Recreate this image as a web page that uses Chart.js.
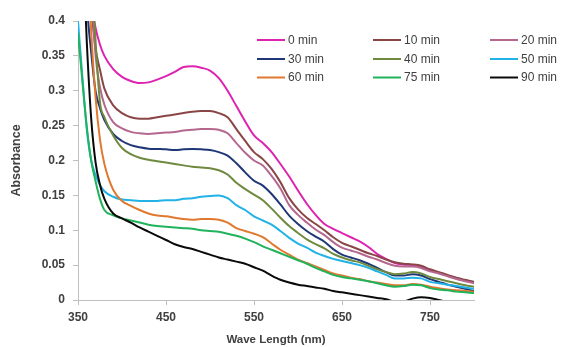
<!DOCTYPE html>
<html>
<head>
<meta charset="utf-8">
<script src="https://cdn.jsdelivr.net/npm/chart.js@4"></script>
<style>
  html, body { margin: 0; padding: 0; background: #ffffff; }
  #wrap { width: 561px; height: 347px; }
</style>
</head>
<body>
<div id="wrap"><canvas id="chart" width="561" height="347"></canvas></div>
<script>
// Wavelength grid (nm)
const wavelengths = [350,355,360,365,370,375,380,390,400,410,420,430,440,450,460,470,480,490,500,510,520,530,540,550,560,570,580,590,600,610,620,630,640,650,660,670,680,690,700,710,720,730,740,750,760,770,780,790,800];

// Absorbance spectra recorded at each irradiation time
const abs0 = [null,null,0.52,0.43,0.39,0.366,0.35,0.331,0.32,0.314,0.311,0.312,0.316,0.321,0.327,0.334,0.335,0.333,0.329,0.318,0.300,0.278,0.256,0.236,0.225,0.212,0.195,0.177,0.157,0.138,0.122,0.109,0.102,0.096,0.090,0.084,0.076,0.066,0.059,0.053,0.051,0.050,0.048,0.043,0.039,0.035,0.031,0.028,0.025];
const abs10 = [null,null,0.50,0.42,0.36,0.33,0.303,0.279,0.268,0.262,0.260,0.260,0.262,0.264,0.266,0.268,0.270,0.271,0.271,0.268,0.262,0.245,0.228,0.212,0.202,0.188,0.169,0.146,0.130,0.118,0.109,0.100,0.090,0.082,0.077,0.072,0.067,0.063,0.058,0.054,0.052,0.051,0.049,0.044,0.040,0.036,0.032,0.029,0.026];
const abs20 = [null,null,0.55,0.45,0.35,0.305,0.28,0.255,0.246,0.241,0.239,0.238,0.239,0.240,0.241,0.243,0.244,0.245,0.245,0.244,0.239,0.225,0.211,0.200,0.193,0.178,0.160,0.136,0.122,0.111,0.101,0.093,0.083,0.075,0.071,0.067,0.062,0.058,0.053,0.049,0.048,0.048,0.046,0.041,0.038,0.034,0.030,0.027,0.024];
const abs30 = [null,0.60,0.43,0.355,0.299,0.275,0.258,0.238,0.228,0.222,0.219,0.217,0.2165,0.216,0.215,0.216,0.2165,0.216,0.215,0.212,0.207,0.196,0.183,0.171,0.164,0.152,0.137,0.121,0.109,0.099,0.091,0.0835,0.073,0.065,0.061,0.057,0.052,0.046,0.040,0.035,0.035,0.037,0.035,0.030,0.026,0.022,0.019,0.016,0.013];
const abs40 = [null,null,0.60,0.48,0.37,0.283,0.262,0.236,0.218,0.209,0.204,0.201,0.199,0.197,0.195,0.193,0.191,0.190,0.189,0.186,0.180,0.168,0.159,0.151,0.143,0.131,0.118,0.106,0.096,0.087,0.080,0.074,0.066,0.061,0.057,0.054,0.049,0.044,0.040,0.037,0.038,0.040,0.038,0.033,0.030,0.027,0.024,0.021,0.019];
const abs50 = [0.40,0.32,0.245,0.200,0.179,0.165,0.156,0.148,0.144,0.143,0.142,0.142,0.142,0.143,0.143,0.145,0.146,0.148,0.149,0.150,0.146,0.136,0.129,0.120,0.114,0.108,0.099,0.089,0.081,0.075,0.068,0.063,0.059,0.056,0.053,0.050,0.046,0.041,0.036,0.031,0.031,0.032,0.031,0.026,0.024,0.022,0.020,0.018,0.016];
const abs60 = [null,null,0.52,0.385,0.29,0.23,0.195,0.158,0.142,0.135,0.129,0.124,0.121,0.120,0.118,0.116,0.115,0.116,0.116,0.115,0.111,0.103,0.099,0.095,0.090,0.081,0.072,0.065,0.058,0.053,0.048,0.043,0.038,0.035,0.032,0.030,0.027,0.025,0.023,0.021,0.021,0.023,0.022,0.019,0.017,0.015,0.014,0.013,0.012];
const abs75 = [0.383,0.313,0.248,0.200,0.170,0.145,0.129,0.1215,0.117,0.114,0.111,0.108,0.106,0.105,0.104,0.103,0.102,0.100,0.099,0.098,0.095,0.092,0.088,0.083,0.077,0.072,0.067,0.062,0.057,0.052,0.046,0.041,0.036,0.033,0.031,0.029,0.027,0.024,0.021,0.019,0.020,0.022,0.021,0.017,0.015,0.014,0.012,0.011,0.010];
const abs90 = [null,0.52,0.37,0.26,0.197,0.165,0.145,0.124,0.117,0.111,0.104,0.098,0.092,0.086,0.080,0.076,0.073,0.069,0.065,0.061,0.058,0.055,0.052,0.047,0.042,0.035,0.029,0.025,0.022,0.020,0.018,0.016,0.013,0.011,0.009,0.007,0.005,0.003,0.001,-0.002,-0.002,0.002,0.004,0.003,0.000,-0.003,-0.006,-0.008,-0.010];

const seriesLabels = ['0 min','10 min','20 min','30 min','40 min','50 min','60 min','75 min','90 min'];
const seriesData = [abs0, abs10, abs20, abs30, abs40, abs50, abs60, abs75, abs90];
const seriesColors = ['#DE23B0','#8A4646','#B4678F','#1F3777','#6F8A3E','#22B2E6','#E0792F','#20B35B','#0A0A0A'];

const xTickValues = [350,450,550,650,750];
const yTickValues = [0,0.05,0.1,0.15,0.2,0.25,0.3,0.35,0.4];

const axisGray = '#BFBFBF';
const textGray = '#404040';

// Legend laid out as a 3 x 3 grid inside the plot area
const gridLegend = {
  id: 'gridLegend',
  afterDraw(chart) {
    const ctx = chart.ctx;
    const colX = [257, 373, 490];
    const rowY = [40, 59, 77.5];
    const lineLen = 28;
    ctx.save();
    ctx.font = '12px "Liberation Sans", Arial, sans-serif';
    ctx.textBaseline = 'middle';
    ctx.textAlign = 'left';
    chart.data.datasets.forEach((ds, i) => {
      const x = colX[i % 3];
      const y = rowY[Math.floor(i / 3)];
      ctx.strokeStyle = ds.borderColor;
      ctx.lineWidth = 2;
      ctx.beginPath();
      ctx.moveTo(x, y);
      ctx.lineTo(x + lineLen, y);
      ctx.stroke();
      ctx.fillStyle = textGray;
      ctx.fillText(ds.label, x + lineLen + 3, y + 0.5);
    });
    ctx.restore();
  }
};

const datasets = seriesData.map((vals, i) => ({
  label: seriesLabels[i],
  data: vals.map((v, k) => ({ x: wavelengths[k], y: v })),
  borderColor: seriesColors[i],
  backgroundColor: seriesColors[i],
  borderWidth: 2,
  pointRadius: 0,
  fill: false,
  tension: 0.4,
  cubicInterpolationMode: 'monotone',
  order: seriesData.length - i
}));

new Chart(document.getElementById('chart'), {
  type: 'line',
  data: { datasets },
  plugins: [gridLegend],
  options: {
    responsive: false,
    animation: false,
    devicePixelRatio: 1,
    layout: { padding: { top: 21, right: 87, bottom: 0, left: 0 } },
    plugins: {
      legend: { display: false },
      tooltip: { enabled: false }
    },
    scales: {
      x: {
        type: 'linear',
        min: 350,
        max: 800,
        afterBuildTicks: (scale) => { scale.ticks = xTickValues.map(v => ({ value: v })); },
        afterFit: (scale) => { scale.height = 47; },
        grid: { display: true, drawOnChartArea: false, drawTicks: true, tickLength: 5, color: axisGray },
        border: { display: true, color: axisGray, width: 1 },
        ticks: {
          padding: 5,
          maxRotation: 0,
          color: textGray,
          font: { family: '"Liberation Sans", Arial, sans-serif', size: 12, weight: 'bold' }
        },
        title: {
          display: true,
          text: 'Wave Length (nm)',
          color: textGray,
          padding: { top: 0, bottom: 0 },
          font: { family: '"Liberation Sans", Arial, sans-serif', size: 11.5, weight: 'bold' }
        }
      },
      y: {
        type: 'linear',
        min: 0,
        max: 0.4,
        afterBuildTicks: (scale) => { scale.ticks = yTickValues.map(v => ({ value: v })); },
        afterFit: (scale) => { scale.width = 78; },
        grid: { display: true, drawOnChartArea: false, drawTicks: true, tickLength: 5, color: axisGray },
        border: { display: true, color: axisGray, width: 1 },
        ticks: {
          padding: 8,
          color: textGray,
          font: { family: '"Liberation Sans", Arial, sans-serif', size: 12, weight: 'bold' },
          callback: (v) => String(Number(v.toFixed(2)))
        },
        title: {
          display: true,
          text: 'Absorbance',
          color: textGray,
          padding: { top: 9, bottom: 0 },
          font: { family: '"Liberation Sans", Arial, sans-serif', size: 12.5, weight: 'bold' }
        }
      }
    }
  }
});
</script>
</body>
</html>
